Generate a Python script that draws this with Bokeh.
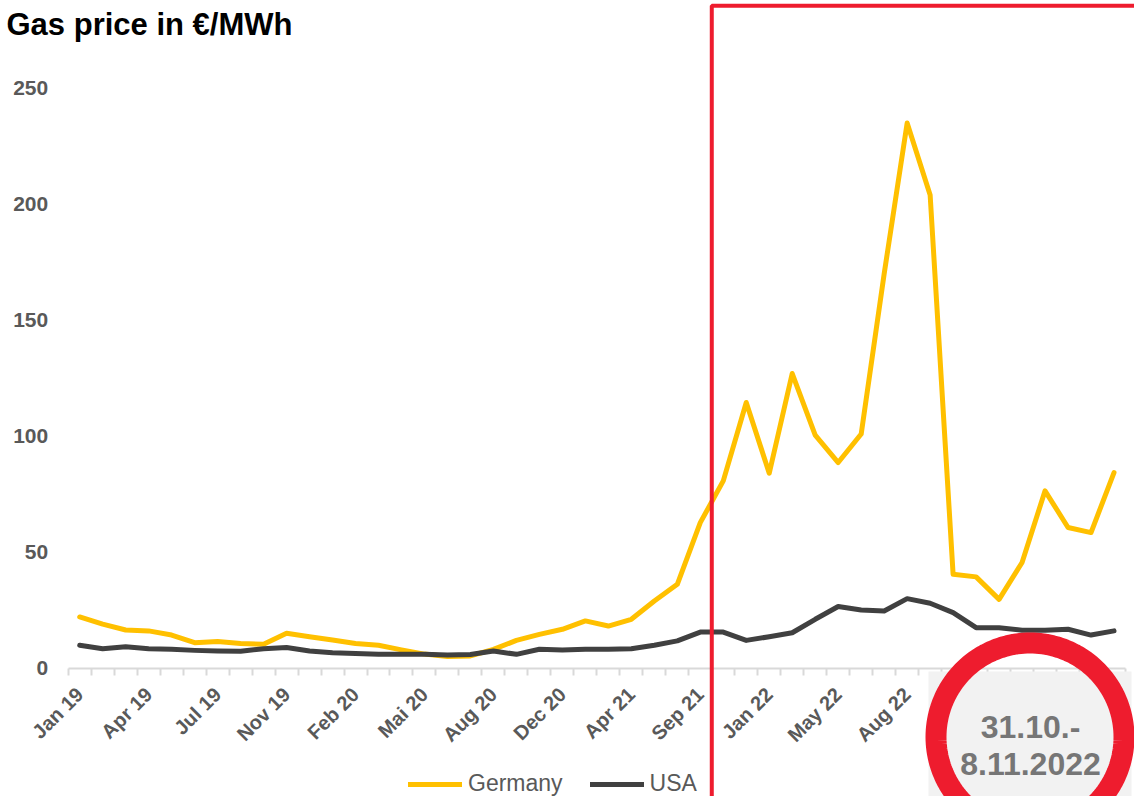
import math
from bokeh.plotting import figure
from bokeh.models import (Range1d, FixedTicker, BoxAnnotation, PolyAnnotation,
                          Label, Legend, LegendItem)
from bokeh.embed import file_html
from bokeh.resources import INLINE

# ---------------- data ----------------
germany = [22.0, 18.9, 16.4, 16.0, 14.2, 10.9, 11.4, 10.6, 10.2, 15.0,
           13.5, 12.1, 10.6, 9.8, 7.8, 6.0, 5.0, 5.2, 8.0, 11.9,
           14.5, 16.7, 20.3, 18.1, 21.0, 28.9, 36.1, 62.7, 80.7, 114.5,
           84.0, 127.0, 100.4, 88.6, 100.9, 170.0, 235.0, 204.0, 40.4, 39.3,
           29.6, 45.5, 76.4, 60.6, 58.4, 84.3]
usa = [9.8, 8.3, 9.2, 8.3, 8.1, 7.6, 7.3, 7.2, 8.3, 8.8,
       7.3, 6.6, 6.3, 5.9, 5.9, 5.9, 5.6, 5.8, 7.3, 5.9,
       8.1, 7.8, 8.1, 8.1, 8.3, 9.8, 11.7, 15.5, 15.5, 11.9,
       13.5, 15.2, 21.0, 26.5, 25.0, 24.6, 29.9, 27.9, 23.9, 17.4,
       17.4, 16.3, 16.3, 16.7, 14.2, 16.0]
tick_positions = [0, 3, 6, 9, 12, 15, 18, 21, 24, 27, 30, 33, 36]
tick_labels = ["Jan 19", "Apr 19", "Jul 19", "Nov 19", "Feb 20", "Mai 20", "Aug 20",
               "Dec 20", "Apr 21", "Sep 21", "Jan 22", "May 22", "Aug 22"]
y_ticks = [0, 50, 100, 150, 200, 250]
title_text = "Gas price in €/MWh"
period_lines = ["31.10.-", "8.11.2022"]
marker_position = 27.5   # boundary after "Sep 21"

x = list(range(len(germany)))
n_cat = len(germany)

# ---------------- layout (pixels) ----------------
W, H = 1134, 796
axis_left_px = 67.7          # left end of x axis
axis_right_px = 1125.0       # right end of x axis
zero_px = 667.5              # y position of value 0
px_per_unit = 579.7 / 250.0
pitch = (axis_right_px - axis_left_px) / n_cat

x_start = -0.5 - axis_left_px / pitch
x_end = x_start + W / pitch
y_end = zero_px / px_per_unit
y_start = -(H - zero_px) / px_per_unit

YELLOW = "#FFC000"
DARK = "#404040"
RED = "#EE1C2E"
GREY_TXT = "#595959"
FONT = "Liberation Sans"

p = figure(width=W, height=H, output_backend="svg", toolbar_location=None,
           x_range=Range1d(x_start, x_end), y_range=Range1d(y_start, y_end),
           min_border=0, min_border_left=0, min_border_right=0,
           min_border_top=0, min_border_bottom=0)
p.title.visible = False
p.outline_line_color = None
p.xgrid.grid_line_color = None
p.ygrid.grid_line_color = None
p.background_fill_color = "white"
p.border_fill_color = "white"

r_de = p.line(x, germany, line_color=YELLOW, line_width=5,
              line_join="round", line_cap="round")
r_us = p.line(x, usa, line_color=DARK, line_width=5,
              line_join="round", line_cap="round")

# y axis
yax = p.yaxis[0]
yax.fixed_location = -0.5
yax.ticker = FixedTicker(ticks=y_ticks)
yax.axis_line_color = None
yax.major_tick_line_color = None
yax.minor_tick_line_color = None
yax.major_tick_out = 0
yax.major_tick_in = 0
yax.minor_tick_out = 0
yax.minor_tick_in = 0
yax.major_label_standoff = 20
yax.major_label_text_font = FONT
yax.major_label_text_font_size = "21px"
yax.major_label_text_font_style = "bold"
yax.major_label_text_color = GREY_TXT

# x axis
xax = p.xaxis[0]
xax.fixed_location = 0
xax.bounds = (-0.5, n_cat - 0.5)
xax.ticker = FixedTicker(ticks=tick_positions,
                         minor_ticks=[i - 0.5 for i in range(n_cat + 1)])
xax.major_label_overrides = {pos: lab for pos, lab in zip(tick_positions, tick_labels)}
xax.major_tick_out = 0
xax.major_tick_in = 0
xax.major_tick_line_color = None
xax.minor_tick_out = 7
xax.minor_tick_in = 0
xax.minor_tick_line_color = "#d9d9d9"
xax.minor_tick_line_width = 2
xax.axis_line_color = "#d9d9d9"
xax.axis_line_width = 2
xax.major_label_orientation = math.pi / 4
xax.major_label_standoff = 16
xax.major_label_text_font = FONT
xax.major_label_text_font_size = "20px"
xax.major_label_text_font_style = "bold"
xax.major_label_text_color = GREY_TXT

# red frame marking the period since Sep 21
box = BoxAnnotation(left=marker_position, left_units="data",
                    right=W + 50, right_units="screen",
                    top=H - 5.3, top_units="screen",
                    bottom=-60, bottom_units="screen",
                    fill_color=None, fill_alpha=0,
                    line_color=RED, line_alpha=1, line_width=4)
p.add_layout(box)

# grey box with date, under red ring
grey = BoxAnnotation(left=928, left_units="screen",
                     right=1131, right_units="screen",
                     top=H - 671, top_units="screen",
                     bottom=-60, bottom_units="screen",
                     fill_color="#F2F2F2", fill_alpha=1, line_color=None)
p.add_layout(grey)

cx, cy = 1029.5, H - 736.5
ring_r = 94
n = 180
ring = PolyAnnotation(xs=[cx + ring_r * math.cos(2 * math.pi * k / n) for k in range(n)],
                      ys=[cy + ring_r * math.sin(2 * math.pi * k / n) for k in range(n)],
                      xs_units="screen", ys_units="screen",
                      fill_color=None, fill_alpha=0,
                      line_color=RED, line_alpha=1, line_width=21, line_join="round")
p.add_layout(ring)

for txt, base in zip(period_lines, [726, 763]):
    p.add_layout(Label(x=cx + 0.5, y=H - base, x_units="screen", y_units="screen",
                       text=txt, text_align="center", text_baseline="alphabetic",
                       text_font=FONT, text_font_size="32px", text_font_style="bold",
                       text_color="#767676"))

# title
p.add_layout(Label(x=6, y=H - 24, x_units="screen", y_units="screen",
                   text=title_text, text_align="left", text_baseline="alphabetic",
                   text_font=FONT, text_font_size="31px", text_font_style="bold",
                   text_color="black"))

legend = Legend(items=[LegendItem(label="Germany", renderers=[r_de]),
                       LegendItem(label="USA", renderers=[r_us])],
                orientation="horizontal", location=(408, -1),
                glyph_width=54, glyph_height=20, label_standoff=6, spacing=27,
                padding=0, margin=0, border_line_color=None,
                background_fill_alpha=0,
                label_text_font=FONT, label_text_font_size="23px",
                label_text_color=GREY_TXT)
p.add_layout(legend)

open("out.html", "w").write(file_html(p, INLINE))
